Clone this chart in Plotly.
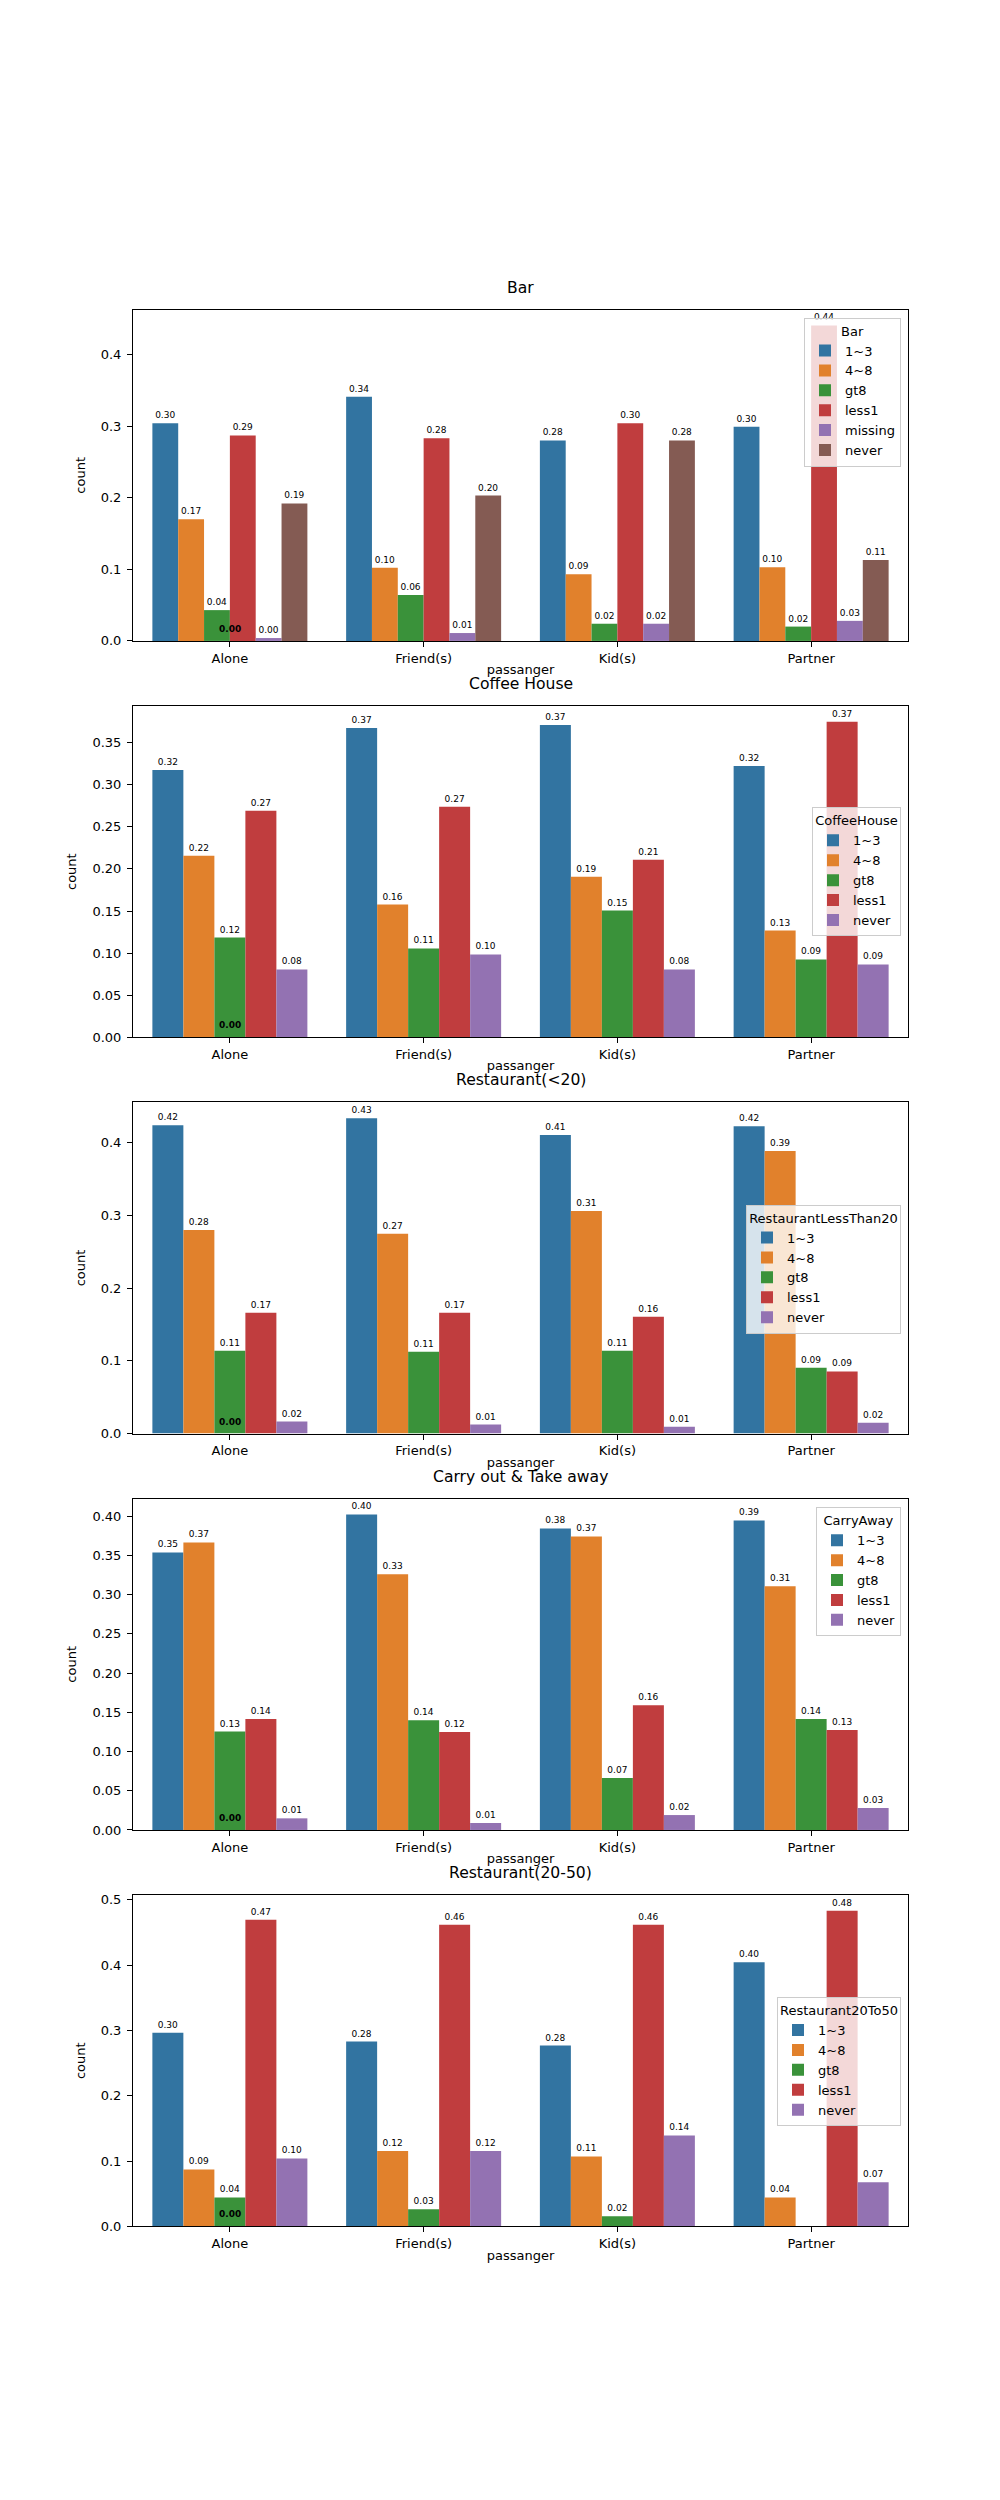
import plotly.graph_objects as go

# ---------------- data ----------------
passengers = ["Alone", "Friend(s)", "Kid(s)", "Partner"]

bar_levels = ["1~3", "4~8", "gt8", "less1", "missing", "never"]
bar_vals = [
    [0.304, 0.341, 0.280, 0.299],   # 1~3
    [0.170, 0.102, 0.093, 0.103],   # 4~8
    [0.043, 0.064, 0.024, 0.020],   # gt8
    [0.287, 0.283, 0.304, 0.4405],  # less1
    [0.004, 0.011, 0.024, 0.028],   # missing
    [0.192, 0.203, 0.280, 0.113],   # never
]

coffee_levels = ["1~3", "4~8", "gt8", "less1", "never"]
coffee_vals = [
    [0.3176, 0.3674, 0.3709, 0.3224],
    [0.2157, 0.1576, 0.1908, 0.1268],
    [0.1185, 0.1055, 0.1505, 0.0924],
    [0.2690, 0.2738, 0.2109, 0.3748],
    [0.0806, 0.0984, 0.0806, 0.0865],
]

rest20_levels = ["1~3", "4~8", "gt8", "less1", "never"]
rest20_vals = [
    [0.4239, 0.4335, 0.4102, 0.4225],
    [0.2798, 0.2745, 0.3058, 0.3882],
    [0.1139, 0.1125, 0.1139, 0.0905],
    [0.1660, 0.1660, 0.1605, 0.0855],
    [0.0165, 0.0124, 0.0096, 0.0151],
]

carry_levels = ["1~3", "4~8", "gt8", "less1", "never"]
carry_vals = [
    [0.3538, 0.4021, 0.3843, 0.3945],
    [0.3665, 0.3258, 0.3741, 0.3105],
    [0.1255, 0.1400, 0.0662, 0.1413],
    [0.1413, 0.1248, 0.1591, 0.1273],
    [0.0148, 0.0089, 0.0190, 0.0280],
]

rest50_levels = ["1~3", "4~8", "gt8", "less1", "never"]
rest50_vals = [
    [0.2966, 0.2829, 0.2768, 0.4045],
    [0.0872, 0.1152, 0.1070, 0.0443],
    [0.0443, 0.0260, 0.0153, None],
    [0.4694, 0.4618, 0.4618, 0.4832],
    [0.1040, 0.1152, 0.1391, 0.0673],
]

panel_titles = ["Bar", "Coffee House", "Restaurant(<20)", "Carry out & Take away", "Restaurant(20-50)"]
legend_titles = ["Bar", "CoffeeHouse", "RestaurantLessThan20", "CarryAway", "Restaurant20To50"]
panel_levels = [bar_levels, coffee_levels, rest20_levels, carry_levels, rest50_levels]
panel_vals = [bar_vals, coffee_vals, rest20_vals, carry_vals, rest50_vals]
y_dticks = [0.1, 0.05, 0.1, 0.05, 0.1]
y_formats = [".1f", ".2f", ".1f", ".2f", ".1f"]

# ---------------- styling / layout ----------------
colors = ["#3274a1", "#e1812c", "#3a923a", "#c03d3e", "#9372b2", "#845b53"]
FONT = "DejaVu Sans"
W, H = 1000, 2500
LEFT, RIGHT = 125, 900
TOP0, AX_H, STEP = 300, 332.7, 398.1
# legend (right edge px, top px) per panel
legend_px = [(893, 308), (893, 800), (893, 1199), (893, 1503), (893, 1995)]

fig = go.Figure()
layout = dict(
    width=W, height=H,
    margin=dict(l=0, r=0, t=0, b=0),
    paper_bgcolor="white", plot_bgcolor="white",
    font=dict(family=FONT, size=13, color="black"),
    barmode="group", bargap=0.2, bargroupgap=0,
    showlegend=True,
)
annotations = []

for i in range(5):
    n = "" if i == 0 else str(i + 1)
    xa, ya = "x" + n, "y" + n
    leg = "legend" + n
    top = TOP0 + i * STEP
    bottom = top + AX_H
    levels = panel_levels[i]
    vals = panel_vals[i]
    vmax = max(v for row in vals for v in row if v is not None)

    for j, lvl in enumerate(levels):
        ys = vals[j]
        fig.add_trace(go.Bar(
            x=passengers, y=ys, name=lvl,
            marker=dict(color=colors[j], line=dict(width=0)),
            text=[f"{v:.2f}" if v is not None else "" for v in ys],
            textposition="outside", constraintext="none", cliponaxis=True,
            textfont=dict(size=9, color="black", family=FONT),
            xaxis=xa, yaxis=ya, legend=leg, hoverinfo="x+y+name",
        ))

    axis_common = dict(
        showline=True, mirror=True, linecolor="black", linewidth=1,
        ticks="outside", ticklen=5, tickwidth=1, tickcolor="black",
        showgrid=False, zeroline=False,
        tickfont=dict(size=13, family=FONT, color="black"),
    )
    layout["xaxis" + n] = dict(
        axis_common,
        domain=[LEFT / W, RIGHT / W], anchor=ya,
        categoryorder="array", categoryarray=passengers,
        range=[-0.5, len(passengers) - 0.5],
        title=dict(text="passanger", font=dict(size=13, family=FONT), standoff=0),
    )
    layout["yaxis" + n] = dict(
        axis_common,
        domain=[1 - bottom / H, 1 - top / H], anchor=xa,
        range=[0, vmax * 1.05], dtick=y_dticks[i], tick0=0,
        tickformat=y_formats[i], ticklabelstandoff=3,
        title=dict(text="count", font=dict(size=13, family=FONT), standoff=12),
    )
    lx, ly = legend_px[i]
    layout[leg] = dict(
        title=dict(text=legend_titles[i], side="top center", font=dict(size=13, family=FONT)),
        x=lx / W, y=1 - ly / H, xanchor="right", yanchor="top",
        xref="paper", yref="paper",
        bgcolor="rgba(255,255,255,0.8)", bordercolor="#cccccc", borderwidth=1,
        font=dict(size=13, family=FONT),
        traceorder="normal",
    )
    # panel title
    annotations.append(dict(
        text=panel_titles[i], x=(LEFT + RIGHT) / 2 / W, y=1 - top / H,
        xref="paper", yref="paper", xanchor="center", yanchor="bottom",
        yshift=11, showarrow=False, font=dict(size=15.6, family=FONT, color="black"),
    ))
    # overlapping zero-height labels at the first category
    annotations.append(dict(
        text="<b>0.00</b>", x=passengers[0], y=0, xref=xa, yref=ya,
        yshift=12, showarrow=False, font=dict(size=9, family=FONT, color="black"),
    ))

layout["annotations"] = annotations
fig.update_layout(**layout)
fig.write_html("out.html")
